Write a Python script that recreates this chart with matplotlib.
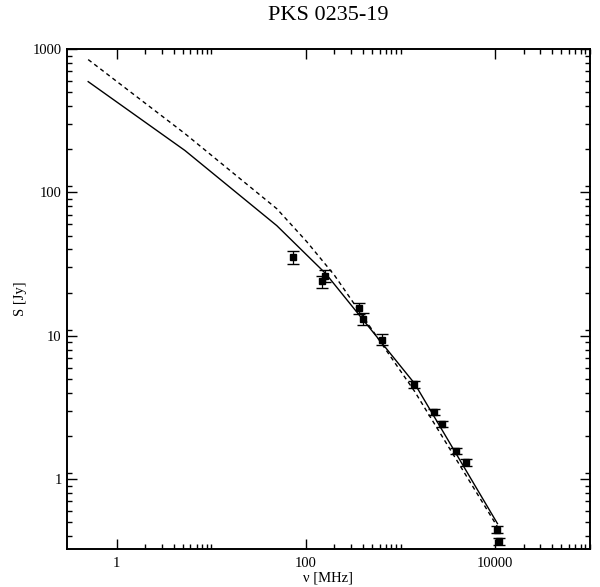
import matplotlib
matplotlib.use("Agg")
import matplotlib.pyplot as plt
from matplotlib.ticker import FixedLocator, FixedFormatter, NullFormatter

plt.rcParams["font.family"] = ["Liberation Serif", "DejaVu Serif"]

# measured flux densities
freq_mhz = [73, 149, 161, 361, 404, 631, 1384, 2250, 2713, 3875, 4860, 10400, 11100]
flux_jy = [35.3, 23.9, 26.3, 15.5, 13.1, 9.4, 4.6, 2.93, 2.41, 1.58, 1.31, 0.444, 0.368]
flux_err = [3.6, 2.4, 2.5, 1.4, 1.3, 0.85, 0.25, 0.15, 0.12, 0.08, 0.07, 0.024, 0.019]

# model spectra
solid_freq = [0.5, 5.26, 49.2, 162, 1407, 10570]
solid_flux = [592, 196, 58.6, 27.1, 4.64, 0.489]
dashed_freq = [0.5, 5.26, 49.2, 102, 201, 1407, 10840]
dashed_flux = [844, 257, 76.9, 45.3, 26.3, 4.09, 0.452]

x_major = [1, 100, 10000]
x_major_labels = ["1", "100", "10000"]
y_major = [1, 10, 100, 1000]
y_major_labels = ["1", "10", "100", "1000"]

fig = plt.figure(figsize=(6.0, 5.87), dpi=100)
ax = fig.add_axes([0.112, 0.0647, 0.871, 0.8518])

ax.plot(solid_freq, solid_flux, color="black", linewidth=1.0)
ax.plot(dashed_freq, dashed_flux, color="black", linewidth=1.0, linestyle=(0, (3, 2.5)))
ax.errorbar(freq_mhz, flux_jy, yerr=flux_err, fmt="s", color="black",
            markersize=5, ecolor="black", elinewidth=0.9, capsize=4.5, capthick=1.0)

ax.set_xscale("log")
ax.set_yscale("log")
ax.set_xlim(0.3, 1e5)
ax.set_ylim(0.325, 1000)

# grace-style minor ticks
x_minor = [k * 10.0 ** e for e in (0, 2, 4) for k in range(2, 11)]
y_minor = [k * 10.0 ** e for e in (-1, 0, 1, 2) for k in (1.1, 2, 3, 4, 5, 6, 7, 8, 9)]
ax.xaxis.set_major_locator(FixedLocator(x_major))
ax.xaxis.set_major_formatter(FixedFormatter(x_major_labels))
ax.xaxis.set_minor_locator(FixedLocator(x_minor))
ax.xaxis.set_minor_formatter(NullFormatter())
ax.yaxis.set_major_locator(FixedLocator(y_major))
ax.yaxis.set_major_formatter(FixedFormatter(y_major_labels))
ax.yaxis.set_minor_locator(FixedLocator(y_minor))
ax.yaxis.set_minor_formatter(NullFormatter())

ax.tick_params(which="both", direction="in", top=True, right=True, width=1.0)
ax.tick_params(which="major", length=7.2, labelsize=10.5)
ax.tick_params(axis="x", which="major", pad=6)
ax.tick_params(axis="y", which="major", pad=4)
ax.tick_params(which="minor", length=3.6)
for sp in ax.spines.values():
    sp.set_linewidth(1.4)

ax.set_xlabel("ν [MHz]", fontsize=10.5, labelpad=1)
ax.set_ylabel("S [Jy]", fontsize=10.5, labelpad=4)
ax.set_title("PKS 0235-19", fontsize=16, pad=21)

fig.savefig("out.png", dpi=100)
